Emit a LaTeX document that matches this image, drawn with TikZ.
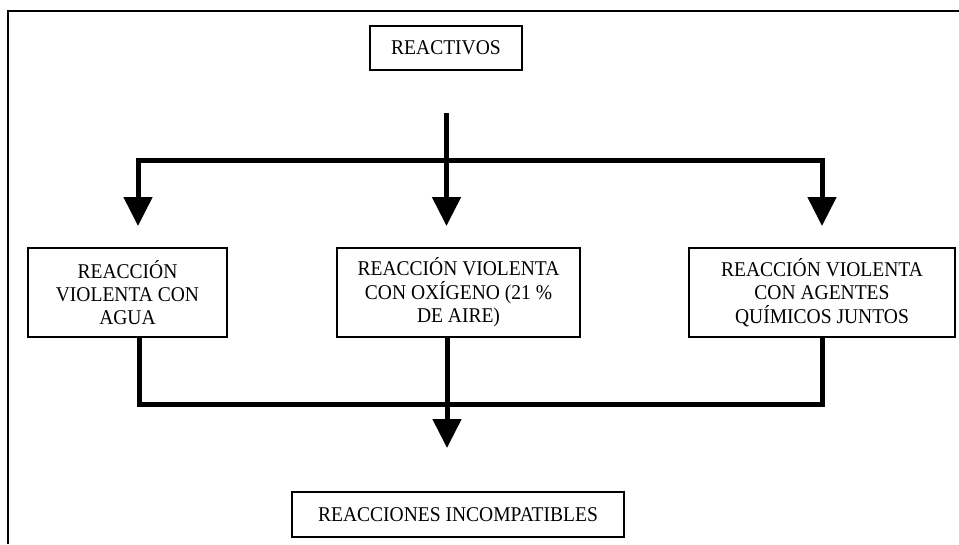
\documentclass[tikz,border=0pt]{standalone}
\usepackage{fontspec}
\setmainfont[FakeStretch=0.93]{Liberation Serif}
\usetikzlibrary{arrows.meta}
\begin{document}
\begin{tikzpicture}[x=1pt,y=-1pt,
  box/.style={draw, line width=1.3pt, inner sep=0pt, align=center,
    font=\fontsize{21}{23.3}\selectfont},
  conn/.style={line width=5pt, line join=miter},
  arr/.style={line width=5pt, line join=miter, -{Triangle[width=28pt,length=29pt]}},
  frame/.style={line width=2pt}]
\useasboundingbox (0,0) rectangle (959,544);
% outer frame (cropped: top and left only)
\draw[frame] (8,544) -- (8,11) -- (959,11);
% nodes
\node[box, minimum width=152pt, minimum height=44pt] (reac) at (446,48) {REACTIVOS};
\node[box, minimum width=199pt, minimum height=89pt] (agua) at (127.5,292.5)
  {REACCIÓN\\VIOLENTA CON\\AGUA};
\node[box, minimum width=243pt, minimum height=89pt] (oxi) at (458.5,292.5)
  {REACCIÓN VIOLENTA\\CON OXÍGENO (21 \%\\DE AIRE)};
\node[box, minimum width=266pt, minimum height=89pt] (quim) at (822,292.5)
  {REACCIÓN VIOLENTA\\CON AGENTES\\QUÍMICOS JUNTOS};
\node[box, minimum width=332pt, minimum height=45pt] (inc) at (458,514.5)
  {REACCIONES INCOMPATIBLES};
% upper connectors
\coordinate (s) at (446.5,113);
\coordinate (j) at (446.5,160);
\coordinate (jl) at (138,160);
\coordinate (jr) at (822,160);
\coordinate (tl) at (138,226);
\coordinate (tm) at (446.5,226);
\coordinate (tr) at (822,226);
\draw[conn] (s) -- (j);
\draw[arr] (j) -- (jl) -- (tl);
\draw[arr] (j) -- (jr) -- (tr);
\draw[arr] (j) -- (tm);
% lower connectors
\coordinate (bl) at (139,404);
\coordinate (bm) at (447,404);
\coordinate (br) at (822,404);
\coordinate (bt) at (447,448);
\draw[conn] (agua.south -| bl) -- (bl) -- (br) -- (quim.south -| br);
\draw[conn] (oxi.south -| bm) -- (bm);
\draw[arr] (bm) -- (bt);
\end{tikzpicture}
\end{document}
